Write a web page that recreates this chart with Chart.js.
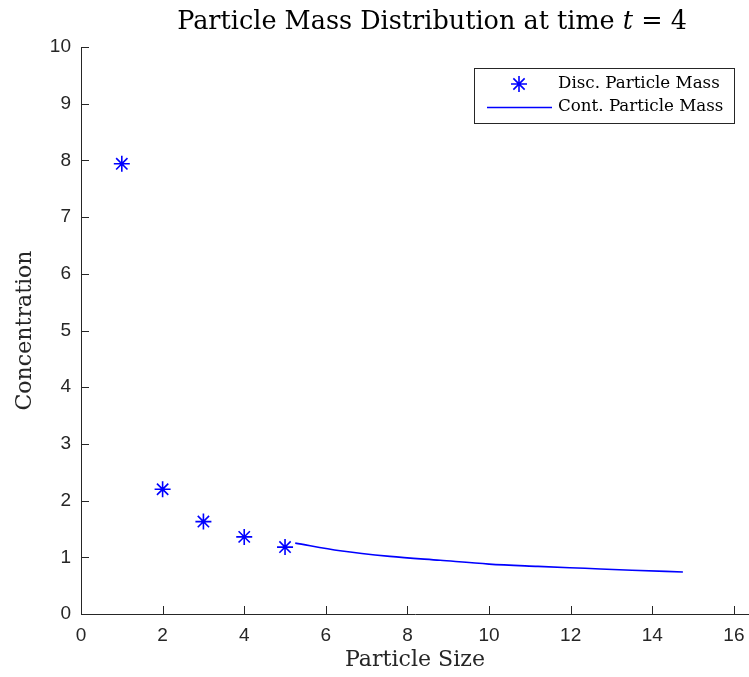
<!DOCTYPE html>
<html>
<head>
<meta charset="utf-8">
<script src="https://cdn.jsdelivr.net/npm/chart.js@4.4.1/dist/chart.umd.min.js"></script>
<style>
html,body{margin:0;padding:0;background:#fff;}
#wrap{width:749px;height:677px;}
</style>
</head>
<body>
<div id="wrap"><canvas id="c" width="749" height="677"></canvas></div>
<script>
const discSizes = [1, 2, 3, 4, 5];
const discMass = [7.94, 2.20, 1.63, 1.36, 1.18];
const contSizes = [5.25, 6.35, 7.57, 8.8, 10.0, 11.2, 12.35, 13.5, 14.75];
const contMass = [1.25, 1.116, 1.017, 0.947, 0.88, 0.84, 0.806, 0.772, 0.741];
const xTicks = [0, 2, 4, 6, 8, 10, 12, 14, 16];
const yTicks = [0, 1, 2, 3, 4, 5, 6, 7, 8, 9, 10];
const titleText = ['Particle Mass Distribution at time ', 't', ' = 4'];
const seriesLabels = ['Disc. Particle Mass', 'Cont. Particle Mass'];
const xTitle = 'Particle Size';
const yTitle = 'Concentration';

const AXIS = '#262626';
const BLUE = '#0000ff';
const SERIF = '"DejaVu Serif", "Liberation Serif", serif';
const SANS = '"Liberation Sans", Arial, sans-serif';

const mctx = document.createElement('canvas').getContext('2d');
function fitSize(text, family, target, style) {
  mctx.font = (style || '') + ' 100px ' + family;
  const w = mctx.measureText(text).width;
  return Math.round(100 * target / w * 10) / 10;
}
const titleSize = fitSize(titleText.join(''), SERIF, 510);
const xTitleSize = fitSize(xTitle, SERIF, 140);
const yTitleSize = fitSize(yTitle, SERIF, 160);
const legendSize = fitSize(seriesLabels[0], SERIF, 162);

const innerTicks = {
  id: 'innerTicks',
  afterDraw(chart) {
    const ctx = chart.ctx;
    const xs = chart.scales.x, ys = chart.scales.y;
    ctx.save();
    ctx.strokeStyle = AXIS;
    ctx.lineWidth = 1;
    ctx.beginPath();
    xTicks.forEach(v => {
      const px = Math.round(xs.getPixelForValue(v)) + 0.5;
      ctx.moveTo(px, ys.bottom); ctx.lineTo(px, ys.bottom - 8);
    });
    yTicks.forEach(v => {
      const py = Math.round(ys.getPixelForValue(v)) + 0.5;
      ctx.moveTo(xs.left, py); ctx.lineTo(xs.left + 8, py);
    });
    ctx.stroke();
    ctx.restore();
  }
};

const titlePlugin = {
  id: 'mixedTitle',
  afterDraw(chart) {
    const ctx = chart.ctx;
    ctx.save();
    ctx.fillStyle = '#000';
    ctx.textBaseline = 'alphabetic';
    const fN = titleSize + 'px ' + SERIF, fI = 'italic ' + titleSize + 'px ' + SERIF;
    const parts = [[titleText[0], fN], [titleText[1], fI], [titleText[2], fN]];
    let w = 0;
    parts.forEach(p => { ctx.font = p[1]; w += ctx.measureText(p[0]).width; });
    let x = 432 - w / 2;
    parts.forEach(p => { ctx.font = p[1]; ctx.fillText(p[0], x, 29); x += ctx.measureText(p[0]).width; });
    ctx.restore();
  }
};

const legendPlugin = {
  id: 'boxLegend',
  afterDraw(chart) {
    const ctx = chart.ctx;
    ctx.save();
    ctx.fillStyle = '#fff';
    ctx.fillRect(474, 68, 260, 55);
    ctx.strokeStyle = AXIS;
    ctx.lineWidth = 1;
    ctx.strokeRect(474.5, 68.5, 260, 55);
    const ds0 = chart.data.datasets[0];
    const ds1 = chart.data.datasets[1];
    ctx.strokeStyle = ds0.borderColor;
    ctx.lineWidth = 1.6;
    ctx.beginPath();
    const r = 8, cx = 519, cy = 84;
    ctx.moveTo(cx, cy - r); ctx.lineTo(cx, cy + r);
    ctx.moveTo(cx - r, cy); ctx.lineTo(cx + r, cy);
    const d = r * Math.SQRT1_2;
    ctx.moveTo(cx - d, cy - d); ctx.lineTo(cx + d, cy + d);
    ctx.moveTo(cx - d, cy + d); ctx.lineTo(cx + d, cy - d);
    ctx.stroke();
    ctx.strokeStyle = ds1.borderColor;
    ctx.lineWidth = 1.5;
    ctx.beginPath();
    ctx.moveTo(487, 107.5); ctx.lineTo(552, 107.5);
    ctx.stroke();
    ctx.fillStyle = '#000';
    ctx.font = legendSize + 'px ' + SERIF;
    ctx.textBaseline = 'middle';
    ctx.fillText(ds0.label, 558, 84);
    ctx.fillText(ds1.label, 558, 107);
    ctx.restore();
  }
};

new Chart(document.getElementById('c'), {
  type: 'scatter',
  data: {
    datasets: [
      {
        label: seriesLabels[0],
        data: discSizes.map((x, i) => ({x, y: discMass[i]})),
        showLine: false,
        pointStyle: 'star',
        pointRadius: 8,
        pointBorderWidth: 1.6,
        borderColor: BLUE,
        backgroundColor: BLUE
      },
      {
        label: seriesLabels[1],
        data: contSizes.map((x, i) => ({x, y: contMass[i]})),
        showLine: true,
        pointRadius: 0,
        borderWidth: 1.6,
        borderColor: BLUE,
        backgroundColor: BLUE,
        cubicInterpolationMode: 'monotone'
      }
    ]
  },
  options: {
    responsive: false,
    animation: false,
    layout: {autoPadding: false, padding: {top: 47, right: 0, left: 0, bottom: 0}},
    plugins: {legend: {display: false}, tooltip: {enabled: false}, title: {display: false}},
    scales: {
      x: {
        type: 'linear',
        min: 0,
        max: 16.37,
        afterFit(s) { s.height = 63; s.paddingLeft = 0; s.paddingRight = 0; },
        afterBuildTicks(s) { s.ticks = xTicks.map(v => ({value: v})); },
        ticks: {stepSize: 2, includeBounds: false, padding: 10, color: AXIS, font: {family: SANS, size: 19}, maxRotation: 0},
        grid: {display: false, drawTicks: false},
        border: {display: true, color: AXIS, width: 1},
        title: {display: true, text: xTitle, color: AXIS, font: {family: SERIF, size: xTitleSize}, padding: {top: 0, bottom: 3}}
      },
      y: {
        type: 'linear',
        min: 0,
        max: 10,
        afterFit(s) { s.width = 81; s.paddingTop = 0; s.paddingBottom = 0; },
        afterBuildTicks(s) { s.ticks = yTicks.map(v => ({value: v})); },
        ticks: {stepSize: 1, padding: 10, color: AXIS, font: {family: SANS, size: 19}},
        grid: {display: false, drawTicks: false},
        border: {display: true, color: AXIS, width: 1},
        title: {display: true, text: yTitle, color: AXIS, font: {family: SERIF, size: yTitleSize}, padding: {top: 12, bottom: 0}}
      }
    }
  },
  plugins: [innerTicks, titlePlugin, legendPlugin]
});
</script>
</body>
</html>
